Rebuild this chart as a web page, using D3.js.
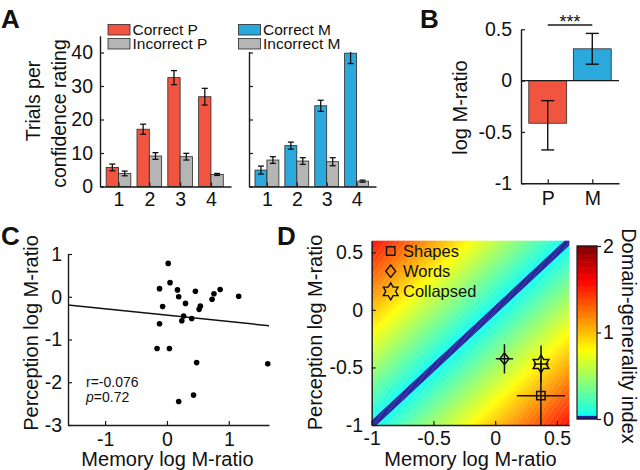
<!DOCTYPE html>
<html><head><meta charset="utf-8">
<script src="https://cdn.jsdelivr.net/npm/d3@7"></script>
<style>
body{margin:0;background:#fff}
svg{display:block}
text{font-family:"Liberation Sans",Arial,Helvetica,sans-serif;fill:#111}
</style>
</head><body>
<svg id="fig" width="640" height="470"></svg>
<script>
// ---------------- DATA ----------------
const ratings = [1, 2, 3, 4];
const correctP = [5.7, 17.1, 32.5, 26.8];
const correctPErr = [1.0, 1.5, 2.1, 2.5];
const incorrectP = [3.9, 9.1, 8.9, 3.6];
const incorrectPErr = [0.7, 1.0, 1.0, 0.3];
const correctM = [4.9, 12.2, 24.1, 39.8];
const correctMErr = [1.2, 1.05, 1.65, 3.1];
const incorrectM = [7.9, 7.6, 7.4, 1.6];
const incorrectMErr = [1.0, 1.0, 1.2, 0.3];
const trialTicks = [0, 10, 20, 30, 40];

const domainNames = ["P", "M"];
const mratioMean = [-0.415, 0.31];
const mratioLow = [-0.675, 0.16];
const mratioHigh = [-0.195, 0.46];
const mratioTicks = [-1, -0.5, 0, 0.5];

const memoryM = [0.02, 0.05, -0.12, 0.17, 0.46, 0.19, 0.30, -0.07, 0.54, 0.52, 0.76, 0.86, 0.73, 1.16, 0.27, 0.24, 0.40, -0.12, -0.16, 0.04, 0.48, 1.63, 0.43, 0.19];
const perceptionM = [0.78, 0.33, 0.19, 0.16, 0.13, 0.0, -0.155, -0.23, -0.22, -0.295, 0.07, 0.17, -0.06, 0.01, -0.45, -0.56, -0.51, -0.63, -1.21, -1.21, -1.54, -1.57, -2.30, -2.45];
const fitIntercept = -0.431, fitSlope = -0.149;
const statR = "r=-0.076", statPval = "=0.72";
const cXTicks = [-1, 0, 1];
const cYTicks = [-3, -2, -1, 0, 1];

const conditions = ["Shapes", "Words", "Collapsed"];
const condShape = ["square", "diamond", "hexagram"];
const condX = [0.37, 0.075, 0.371];
const condXErr = [0.195, 0.07, 0.06];
const condY = [-0.745, -0.425, -0.47];
const condYErr = [0.30, 0.127, 0.16];
const dTicks = [-1, -0.5, 0, 0.5];
const cbTicks = [0, 1, 2];
const indexStep = 0.01;
const indexLevels = d3.range(-1.6, 1.6, indexStep); // P - M differences across the map

const RED = "#f2553f", BLUE = "#2ba8dc", GRAY = "#b5b5b5", EDGE = "#2a2a2a", INK = "#1a1a1a";
const FONT = '"Liberation Sans",Arial,Helvetica,sans-serif';
const TICKFS = 19.5;

const svg = d3.select("#fig");

function styleAxis(g, fs){
  g.attr("font-family", FONT).attr("font-size", fs || TICKFS);
  g.select(".domain").attr("stroke", INK).attr("stroke-width", 1.4);
  g.selectAll(".tick line").attr("stroke", INK).attr("stroke-width", 1.2);
  g.selectAll(".tick text").attr("fill", "#111");
}
const fmt = d => String(d);

function errBar(g, x, y0, y1, cap, sw){
  g.append("line").attr("x1", x).attr("x2", x).attr("y1", y0).attr("y2", y1).attr("stroke", "#111").attr("stroke-width", sw);
  g.append("line").attr("x1", x - cap/2).attr("x2", x + cap/2).attr("y1", y0).attr("y2", y0).attr("stroke", "#111").attr("stroke-width", sw);
  g.append("line").attr("x1", x - cap/2).attr("x2", x + cap/2).attr("y1", y1).attr("y2", y1).attr("stroke", "#111").attr("stroke-width", sw);
}

// ---------------- PANEL A ----------------
const yA = d3.scaleLinear([0, 45], [186.5, 35.75]);
const xAP = d3.scaleLinear([0.4, 4.65], [100, 231]);
const xAM = d3.scaleLinear([0.4, 4.65], [249, 376]);
const barW = 0.4;

function panelA(xs, corr, corrErr, inc, incErr, col, showLabels){
  const g = svg.append("g");
  const rows = ratings.map((r, i) => ({r, c: corr[i], ce: corrErr[i], n: inc[i], ne: incErr[i]}));
  g.selectAll("rect.c").data(rows).join("rect")
    .attr("x", d => xs(d.r - barW)).attr("width", d => xs(d.r) - xs(d.r - barW))
    .attr("y", d => yA(d.c)).attr("height", d => yA(0) - yA(d.c))
    .attr("fill", col).attr("stroke", EDGE).attr("stroke-width", 0.8);
  g.selectAll("rect.n").data(rows).join("rect")
    .attr("x", d => xs(d.r)).attr("width", d => xs(d.r + barW) - xs(d.r))
    .attr("y", d => yA(d.n)).attr("height", d => yA(0) - yA(d.n))
    .attr("fill", GRAY).attr("stroke", EDGE).attr("stroke-width", 0.8);
  rows.forEach(d => {
    errBar(g, xs(d.r - barW/2), yA(d.c + d.ce), yA(d.c - d.ce), 6, 1.3);
    errBar(g, xs(d.r + barW/2), yA(d.n + d.ne), yA(d.n - d.ne), 6, 1.3);
  });
  const ax = g.append("g").attr("transform", `translate(${xs.range()[0]},0)`)
    .call(d3.axisLeft(yA).tickValues(trialTicks).tickSizeInner(-4).tickSizeOuter(0).tickPadding(7).tickFormat(fmt));
  styleAxis(ax);
  if (!showLabels) ax.selectAll(".tick text").remove();
  const bx = g.append("g").attr("transform", `translate(0,${yA(0)})`)
    .call(d3.axisBottom(xs).tickValues(ratings).tickSizeInner(-4).tickSizeOuter(0).tickPadding(6).tickFormat(fmt));
  styleAxis(bx);
  return g;
}
panelA(xAP, correctP, correctPErr, incorrectP, incorrectPErr, RED, true);
panelA(xAM, correctM, correctMErr, incorrectM, incorrectMErr, BLUE, false);

// legends A
function legendA(x0, bg, items){
  const g = svg.append("g");
  if (bg) g.append("rect").attr("x", x0 - 2).attr("y", 20).attr("width", 142).attr("height", 32).attr("fill", "#fff");
  items.forEach((it, i) => {
    const top = i === 0 ? 24.5 : 38.5;
    g.append("rect").attr("x", x0).attr("y", top).attr("width", 22).attr("height", 10.5)
      .attr("fill", it.c).attr("stroke", EDGE).attr("stroke-width", 0.8);
    g.append("text").attr("x", x0 + 24.5).attr("y", top + 10.8).attr("font-size", 15.5).text(it.t);
  });
}
legendA(108, false, [{c: RED, t: "Correct P"}, {c: GRAY, t: "Incorrect P"}]);
legendA(238.5, true, [{c: BLUE, t: "Correct M"}, {c: GRAY, t: "Incorrect M"}]);

svg.append("text").attr("transform", "translate(40,101) rotate(-90)").attr("text-anchor", "middle").attr("font-size", 19.5).text("Trials per");
svg.append("text").attr("transform", "translate(65.5,113.5) rotate(-90)").attr("text-anchor", "middle").attr("font-size", 19.5).text("confidence rating");

// ---------------- PANEL B ----------------
const xB = d3.scaleLinear([0.4, 2.6], [521, 619]);
const yB = d3.scaleLinear([-1, 0.5], [183.3, 29.3]);
const gB = svg.append("g");
const bRows = domainNames.map((n, i) => ({n, i: i + 1, m: mratioMean[i], lo: mratioLow[i], hi: mratioHigh[i], c: i === 0 ? RED : BLUE}));
gB.selectAll("rect").data(bRows).join("rect")
  .attr("x", d => xB(d.i - 0.425)).attr("width", d => xB(d.i + 0.425) - xB(d.i - 0.425))
  .attr("y", d => Math.min(yB(0), yB(d.m))).attr("height", d => Math.abs(yB(0) - yB(d.m)))
  .attr("fill", d => d.c).attr("stroke", EDGE).attr("stroke-width", 0.8);
gB.append("line").attr("x1", xB(0.4)).attr("x2", xB(2.6)).attr("y1", yB(0)).attr("y2", yB(0)).attr("stroke", INK).attr("stroke-width", 1.3);
bRows.forEach(d => errBar(gB, xB(d.i), yB(d.hi), yB(d.lo), 13, 1.4));
const axB = gB.append("g").attr("transform", `translate(${xB(0.4)},0)`)
  .call(d3.axisLeft(yB).tickValues(mratioTicks).tickSizeInner(-4).tickSizeOuter(0).tickPadding(9).tickFormat(fmt));
styleAxis(axB);
const bxB = gB.append("g").attr("transform", `translate(0,${yB(-1)})`)
  .call(d3.axisBottom(xB).tickValues([1, 2]).tickSizeInner(-4).tickSizeOuter(0).tickPadding(8).tickFormat((d, i) => domainNames[i]));
styleAxis(bxB);
gB.append("line").attr("x1", xB(1)).attr("x2", xB(2)).attr("y1", 25).attr("y2", 25).attr("stroke", INK).attr("stroke-width", 1.3);
gB.append("text").attr("x", (xB(1) + xB(2)) / 2).attr("y", 27.5).attr("text-anchor", "middle").attr("font-size", 18).text("***");
svg.append("text").attr("transform", "translate(466.5,107.5) rotate(-90)").attr("text-anchor", "middle").attr("font-size", 20).text("log M-ratio");

// ---------------- PANEL C ----------------
const xC = d3.scaleLinear([-1.6, 1.65], [68, 269]);
const yC = d3.scaleLinear([-3, 1], [425, 254]);
const gC = svg.append("g");
gC.append("line").attr("x1", xC(-1.6)).attr("x2", xC(1.65))
  .attr("y1", yC(fitIntercept + fitSlope * -1.6)).attr("y2", yC(fitIntercept + fitSlope * 1.65))
  .attr("stroke", "#111").attr("stroke-width", 1.5);
gC.selectAll("circle").data(memoryM.map((m, i) => [m, perceptionM[i]])).join("circle")
  .attr("cx", d => xC(d[0])).attr("cy", d => yC(d[1])).attr("r", 2.8).attr("fill", "#000");
const axC = gC.append("g").attr("transform", `translate(${xC(-1.6)},0)`)
  .call(d3.axisLeft(yC).tickValues(cYTicks).tickSizeInner(-4).tickSizeOuter(0).tickPadding(6).tickFormat(fmt));
styleAxis(axC);
const bxC = gC.append("g").attr("transform", `translate(0,${yC(-3)})`)
  .call(d3.axisBottom(xC).tickValues(cXTicks).tickSizeInner(-4).tickSizeOuter(0).tickPadding(7.5).tickFormat(fmt));
styleAxis(bxC);
gC.append("text").attr("x", 86).attr("y", 386.7).attr("font-size", 14).text(statR);
const tp = gC.append("text").attr("x", 86).attr("y", 401.7).attr("font-size", 14);
tp.append("tspan").attr("font-style", "italic").text("p");
tp.append("tspan").text(statPval);
svg.append("text").attr("x", 167.5).attr("y", 465.5).attr("text-anchor", "middle").attr("font-size", 20).text("Memory log M-ratio");
svg.append("text").attr("transform", "translate(37.5,333) rotate(-90)").attr("text-anchor", "middle").attr("font-size", 20).text("Perception log M-ratio");

// ---------------- PANEL D ----------------
const xD = d3.scaleLinear([-1, 0.6], [371.7, 569.3]);
const yD = d3.scaleLinear([-1, 0.6], [425, 240.8]);
function jet(t){
  const f = v => Math.max(0, Math.min(1, v));
  return d3.rgb(255 * f(1.5 - Math.abs(4 * t - 3)), 255 * f(1.5 - Math.abs(4 * t - 2)), 255 * f(1.5 - Math.abs(4 * t - 1))).formatHex();
}
function idxColor(v){ return v < 0.045 ? "#1c1c98" : jet(0.375 + 0.625 * Math.min(v, 2) / 2); }

const defs = svg.append("defs");
defs.append("clipPath").attr("id", "clipD").append("rect")
  .attr("x", xD(-1)).attr("y", yD(0.6)).attr("width", xD(0.6) - xD(-1)).attr("height", yD(-1) - yD(0.6));
const gD = svg.append("g");
const heat = gD.append("g").attr("clip-path", "url(#clipD)");
heat.selectAll("path").data(indexLevels).join("path")
  .attr("d", c => {
    const c0 = c, c1 = c + indexStep * 1.3;
    const pts = [[-3, -3 + c0], [3, 3 + c0], [3, 3 + c1], [-3, -3 + c1]].map(p => [xD(p[0]), yD(p[1])]);
    return "M" + pts.join("L") + "Z";
  })
  .attr("fill", c => idxColor(Math.abs(c + indexStep / 2)));

// error bars + markers
const gM = gD.append("g").attr("clip-path", "url(#clipD)");
function markerPath(shape, s){
  if (shape === "square") return `M${-s},${-s}H${s}V${s}H${-s}Z`;
  if (shape === "diamond") return `M0,${-s * 1.25}L${s},0L0,${s * 1.25}L${-s},0Z`;
  const pts = [];
  for (let k = 0; k < 12; k++){
    const a = -Math.PI / 2 + k * Math.PI / 6;
    const r = k % 2 === 0 ? s : s / Math.sqrt(3);
    pts.push([r * Math.cos(a), r * Math.sin(a)]);
  }
  return "M" + pts.map(p => p.map(v => v.toFixed(2)).join(",")).join("L") + "Z";
}
const markerSize = {square: 4.2, diamond: 4.6, hexagram: 9};
conditions.forEach((c, i) => {
  const cx = xD(condX[i]), cy = yD(condY[i]);
  gM.append("line").attr("x1", xD(condX[i] - condXErr[i])).attr("x2", xD(condX[i] + condXErr[i])).attr("y1", cy).attr("y2", cy).attr("stroke", "#111").attr("stroke-width", 1.5);
  gM.append("line").attr("x1", cx).attr("x2", cx).attr("y1", yD(condY[i] - condYErr[i])).attr("y2", yD(condY[i] + condYErr[i])).attr("stroke", "#111").attr("stroke-width", 1.5);
  gM.append("path").attr("transform", `translate(${cx},${cy})`).attr("d", markerPath(condShape[i], markerSize[condShape[i]]))
    .attr("fill", "none").attr("stroke", "#111").attr("stroke-width", 1.5);
});
// legend D
conditions.forEach((c, i) => {
  const ly = 251 + i * 20.2;
  gD.append("path").attr("transform", `translate(390.7,${ly})`).attr("d", markerPath(condShape[i], condShape[i] === "hexagram" ? 8.5 : (condShape[i] === "square" ? 4.2 : 5)))
    .attr("fill", "none").attr("stroke", "#111").attr("stroke-width", 1.4);
  gD.append("text").attr("x", 403).attr("y", ly + 6).attr("font-size", 16.5).text(c);
});
const axD = gD.append("g").attr("transform", `translate(${xD(-1)},0)`)
  .call(d3.axisLeft(yD).tickValues(dTicks).tickSizeInner(-4).tickSizeOuter(0).tickPadding(8.7).tickFormat(fmt));
styleAxis(axD);
const bxD = gD.append("g").attr("transform", `translate(0,${yD(-1)})`)
  .call(d3.axisBottom(xD).tickValues(dTicks).tickSizeInner(-4).tickSizeOuter(0).tickPadding(6.5).tickFormat(fmt));
styleAxis(bxD);
svg.append("text").attr("x", 470.5).attr("y", 465.5).attr("text-anchor", "middle").attr("font-size", 20).text("Memory log M-ratio");
svg.append("text").attr("transform", "translate(322,332.5) rotate(-90)").attr("text-anchor", "middle").attr("font-size", 20).text("Perception log M-ratio");

// colorbar
const yCb = d3.scaleLinear([0, 2], [419, 246]);
const cbStep = 0.01;
const gCb = svg.append("g");
gCb.selectAll("rect").data(d3.range(0, 2, cbStep)).join("rect")
  .attr("x", 577).attr("width", 20).attr("y", v => yCb(v + cbStep) - 0.3).attr("height", v => yCb(v) - yCb(v + cbStep) + 0.6)
  .attr("fill", v => idxColor(v + cbStep / 2));
gCb.append("rect").attr("x", 577).attr("y", yCb(2)).attr("width", 20).attr("height", yCb(0) - yCb(2)).attr("fill", "none").attr("stroke", INK).attr("stroke-width", 1.2);
const axCb = gCb.append("g").attr("transform", "translate(597,0)")
  .call(d3.axisRight(yCb).tickValues(cbTicks).tickSizeInner(4).tickSizeOuter(0).tickPadding(2).tickFormat(fmt));
styleAxis(axCb);
axCb.select(".domain").remove();
svg.append("text").attr("transform", "translate(621.5,336) rotate(90)").attr("text-anchor", "middle").attr("font-size", 20).text("Domain-generality index");

// panel letters
[["A", 1, 28], ["B", 420, 28], ["C", 1, 245], ["D", 277, 245]].forEach(([t, x, y]) => {
  svg.append("text").attr("x", x).attr("y", y).attr("font-size", 26).attr("font-weight", "bold").text(t);
});
</script>
</body></html>
